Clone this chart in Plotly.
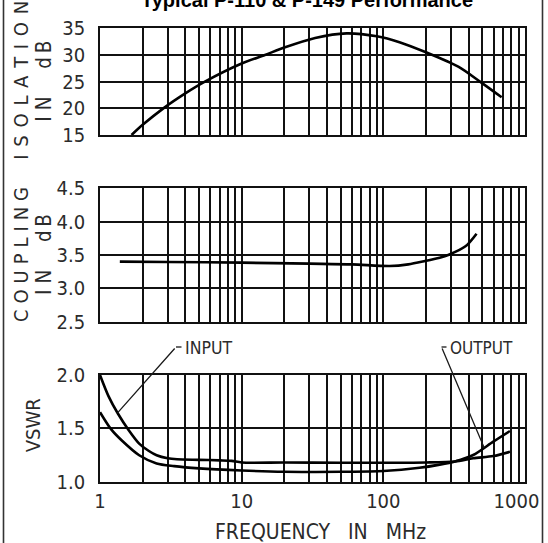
import numpy as np
import plotly.graph_objects as go

# ---------------- data ----------------
iso_freq = [1.67, 2.0, 2.8, 4.0, 5.5, 10, 14.6, 20, 33, 55, 90, 130, 200, 338, 481, 684]
iso_db = [15.0, 16.9, 20.0, 22.8, 25.0, 28.4, 30.0, 31.4, 33.2, 34.05, 33.5, 32.4, 30.5, 27.8, 25.0, 22.07]

cpl_freq = [1.38, 3, 10, 30, 60, 111, 150, 197, 250, 287, 380, 455]
cpl_db = [3.40, 3.395, 3.385, 3.37, 3.36, 3.335, 3.36, 3.41, 3.46, 3.50, 3.63, 3.82]

in_freq = [1, 1.15, 1.34, 1.6, 1.89, 2.2, 2.51, 3, 3.5, 5, 7, 8.5, 10, 20, 50, 100, 200, 320, 431, 597, 783]
in_vswr = [2.0, 1.80, 1.637, 1.48, 1.357, 1.29, 1.248, 1.22, 1.21, 1.205, 1.2, 1.195, 1.18, 1.18,
           1.178, 1.178, 1.18, 1.19, 1.22, 1.24, 1.28]

out_freq = [1, 1.2, 1.42, 1.89, 2.51, 3.34, 5, 10, 20, 50, 100, 180, 250, 320, 431, 597, 783]
out_vswr = [1.652, 1.49, 1.388, 1.248, 1.171, 1.146, 1.125, 1.105, 1.093, 1.093, 1.10, 1.13, 1.16,
            1.19, 1.25, 1.375, 1.475]

iso_ticks = [15, 20, 25, 30, 35]
cpl_ticks = [2.5, 3.0, 3.5, 4.0, 4.5]
vswr_ticks = [1.0, 1.5, 2.0]
freq_decades = [1, 10, 100, 1000]

title_text = "Typical P-110 & P-149 Performance"
iso_title = ["ISOLATION", "IN dB"]
cpl_title = ["COUPLING", "IN dB"]
vswr_title = "VSWR"
x_title = "FREQUENCY IN MHz"
input_label = "INPUT"
output_label = "OUTPUT"
input_tip_freq = 1.33
output_tip_freq = 515

# ---------------- styling / layout ----------------
W, H = 548, 543
FONT = "DejaVu Sans Condensed, DejaVu Sans, sans-serif"
TXT = "#2b2b2b"
GRID = "#111111"

x_dom = [100 / W, 525 / W]
def ydom(top_px, bot_px):
    return [1 - bot_px / H, 1 - top_px / H]
def px(x):
    return x / W
def py(y):
    return 1 - y / H

# all gridline positions 1..9 per decade
grid_vals = []
for d in freq_decades[:-1]:
    for m in range(1, 10):
        grid_vals.append(d * m)
grid_vals.append(freq_decades[-1])
grid_text = []
for v in grid_vals:
    if v in freq_decades:
        s = str(v)
        if v == freq_decades[-1]:
            s = s + "\u00a0\u00a0\u00a0"
        grid_text.append(s)
    else:
        grid_text.append("")

fig = go.Figure()

line_style = dict(color="black", width=2.6, shape="spline", smoothing=0.8)
fig.add_trace(go.Scatter(x=iso_freq, y=iso_db, mode="lines", line=line_style, xaxis="x", yaxis="y",
                         showlegend=False, hoverinfo="skip"))
fig.add_trace(go.Scatter(x=cpl_freq, y=cpl_db, mode="lines", line=line_style, xaxis="x2", yaxis="y2",
                         showlegend=False, hoverinfo="skip"))
fig.add_trace(go.Scatter(x=in_freq, y=in_vswr, mode="lines", line=line_style, xaxis="x3", yaxis="y3",
                         showlegend=False, hoverinfo="skip"))
fig.add_trace(go.Scatter(x=out_freq, y=out_vswr, mode="lines", line=line_style, xaxis="x3", yaxis="y3",
                         showlegend=False, hoverinfo="skip"))

def xaxis(anchor, show_labels):
    return dict(domain=x_dom, anchor=anchor, type="log", range=[0, 3],
                tickmode="array", tickvals=grid_vals, ticktext=grid_text if show_labels else [""] * len(grid_vals),
                showgrid=True, gridcolor=GRID, gridwidth=1.5, showline=True, mirror=True,
                linecolor=GRID, linewidth=1.8, ticks="", zeroline=False, ticklabeloverflow="allow",
                tickfont=dict(family=FONT, size=20, color=TXT), fixedrange=True)

def yaxis(anchor, dom, rng, ticks, fmt):
    return dict(domain=dom, anchor=anchor, range=rng, tickmode="array", tickvals=ticks,
                ticktext=[format(t, fmt) for t in ticks],
                showgrid=True, gridcolor=GRID, gridwidth=1.5, showline=True, mirror=True,
                linecolor=GRID, linewidth=1.8, ticks="", zeroline=False, ticklabelstandoff=9,
                ticklabeloverflow="allow",
                tickfont=dict(family=FONT, size=20, color=TXT), fixedrange=True)

iso_dom = ydom(28.3, 135)
cpl_dom = ydom(188.3, 321.7)
vsw_dom = ydom(375, 481.7)

fig.update_layout(
    width=W, height=H, margin=dict(l=0, r=0, t=0, b=0, autoexpand=False),
    paper_bgcolor="white", plot_bgcolor="white",
    xaxis=xaxis("y", False), yaxis=yaxis("x", iso_dom, [15, 35], iso_ticks, "d"),
    xaxis2=xaxis("y2", False), yaxis2=yaxis("x2", cpl_dom, [2.5, 4.5], cpl_ticks, ".1f"),
    xaxis3=xaxis("y3", True), yaxis3=yaxis("x3", vsw_dom, [1.0, 2.0], vswr_ticks, ".1f"),
)

def spaced(s, sep="\u2004"):
    return sep.join(list(s))
def in_db(s):
    a, b = s.split(" ")
    return spaced(a) + "\u2003\u2002" + spaced(b, "\u2009")

def mid(dom):
    return (dom[0] + dom[1]) / 2

ann = []
# title (cropped at top in the reference)
ann.append(dict(text="<b>" + title_text + "</b>", x=px(306.5), y=py(13.5), xref="paper", yref="paper",
                xanchor="center", yanchor="bottom", showarrow=False,
                font=dict(family="Liberation Sans, Arial, sans-serif", size=20, color="black")))

def vtitle(text, xc, yc, size=20):
    return dict(text=text, x=px(xc), y=yc, xref="paper", yref="paper", xanchor="center",
                yanchor="middle", textangle=-90, showarrow=False,
                font=dict(family=FONT, size=size, color=TXT))

ann.append(vtitle(spaced(iso_title[0], "\u2004\u200a"), 21, mid(iso_dom) + 1 / H))
ann.append(vtitle(in_db(iso_title[1]), 44, mid(iso_dom), 20.5))
ann.append(vtitle(spaced(cpl_title[0]), 21, mid(cpl_dom)))
ann.append(vtitle(in_db(cpl_title[1]), 44, mid(cpl_dom), 20.5))
ann.append(vtitle(vswr_title, 33, mid(vsw_dom) + 3 / H))
ann.append(dict(text=x_title.replace(" ", "\u00a0\u00a0\u00a0"), x=px(320), y=py(532), xref="paper", yref="paper",
                xanchor="center", yanchor="middle", showarrow=False,
                font=dict(family=FONT, size=21, color=TXT)))

# leader lines: tip on the curve (VSWR axis coords, log10 for the log axis)
def interp(freqs, vals, f):
    return float(np.interp(np.log10(f), np.log10(freqs), vals))
def px_to_x3(x):
    return (x - 100) / (425 / 3)
def px_to_y3(y):
    return 2.0 - (y - 375) / 106.7

in_tip = (float(np.log10(input_tip_freq)), interp(in_freq, in_vswr, input_tip_freq))
out_tip = (float(np.log10(output_tip_freq)), interp(out_freq, out_vswr, output_tip_freq))

arrow = dict(xref="x3", yref="y3", axref="x3", ayref="y3", text="", showarrow=True, arrowhead=0,
             arrowwidth=1.3, arrowcolor="#1a1a1a", standoff=0, startstandoff=0)
ann.append(dict(arrow, x=in_tip[0], y=in_tip[1], ax=px_to_x3(176), ay=px_to_y3(347)))
ann.append(dict(arrow, x=out_tip[0], y=out_tip[1], ax=px_to_x3(441.5), ay=px_to_y3(347)))
ann.append(dict(text=input_label, x=px(183), y=py(348), xref="paper", yref="paper",
                xanchor="left", yanchor="middle", showarrow=False, font=dict(family=FONT, size=17.5, color=TXT)))
ann.append(dict(text=output_label, x=px(448), y=py(348), xref="paper", yref="paper",
                xanchor="left", yanchor="middle", showarrow=False, font=dict(family=FONT, size=17, color=TXT)))

fig.update_layout(annotations=ann)

frame = dict(color="#333333", width=1.6)
fig.update_layout(shapes=[
    # outer frame edges visible in the reference
    dict(type="line", xref="paper", yref="paper", x0=px(3.5), x1=px(3.5), y0=0, y1=1, line=frame),
    dict(type="line", xref="paper", yref="paper", x0=px(542.5), x1=px(542.5), y0=0, y1=1, line=frame),
    # short dashes of the leader lines
    dict(type="line", xref="paper", yref="paper", x0=px(176), x1=px(181.5), y0=py(347), y1=py(347),
         line=dict(color="#1a1a1a", width=1.3)),
    dict(type="line", xref="paper", yref="paper", x0=px(441.5), x1=px(446.5), y0=py(347), y1=py(347),
         line=dict(color="#1a1a1a", width=1.3)),
])

fig.write_html("out.html", config={"displayModeBar": False},
               post_script="document.body.style.margin='0px';document.body.style.overflow='hidden';")
